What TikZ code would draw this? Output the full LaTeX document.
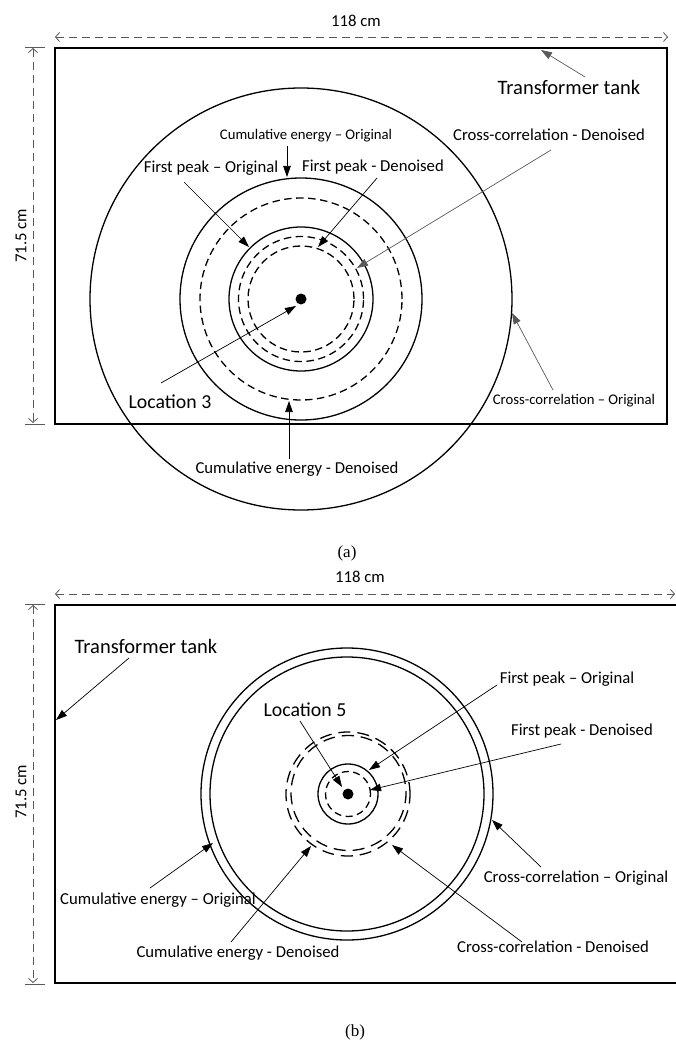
\documentclass[tikz,border=0pt]{standalone}
\usepackage{fontspec}
\setmainfont{Carlito}
\newfontfamily\serifcap{Liberation Serif}
\usetikzlibrary{arrows.meta}
\begin{document}
\begin{tikzpicture}[x=1pt,y=-1pt,
  ring/.style={line width=1.3pt},
  dring/.style={line width=1.3pt, dash pattern=on 7.5pt off 4.5pt},
  lring/.style={line width=1.3pt, dash pattern=on 12pt off 7pt},
  sring/.style={line width=1.3pt, dash pattern=on 7pt off 4.5pt},
  tank/.style={line width=2pt},
  ptr/.style={line width=0.7pt, -{Triangle[length=11pt,width=7.5pt]}},
  gptr/.style={ptr, draw=black!65},
  dimline/.style={black!65, line width=0.8pt, dash pattern=on 8pt off 5pt,
     {Straight Barb[length=4pt,width=9pt]}-{Straight Barb[length=4pt,width=9pt]}},
  tickline/.style={black!65, line width=0.8pt},
  lbl/.style={inner sep=0pt, font=\fontsize{16.7pt}{20pt}\selectfont},
  slbl/.style={inner sep=0pt, font=\fontsize{14.7pt}{18pt}\selectfont},
  blbl/.style={inner sep=0pt, font=\fontsize{20.5pt}{24pt}\selectfont},
  figcap/.style={inner sep=0pt, font=\serifcap\fontsize{17pt}{20pt}\selectfont},
  pdot/.style={circle, fill=black, inner sep=0pt, minimum size=11pt}]
\useasboundingbox (0,0) rectangle (675,1043);

% ================= (a) =================
\coordinate (a-dl) at (55,37);
\coordinate (a-dr) at (668,37);
\draw[dimline] (a-dl) -- (a-dr);
\node[lbl] (a-w) at (356,21) {118 cm};
\coordinate (a-vt) at (33,48);
\coordinate (a-vb) at (33,423);
\draw[dimline] (a-vt) -- (a-vb);
\draw[tickline] (25,47) -- (45,47);
\draw[tickline] (25,424) -- (45,424);
\node[lbl, rotate=90] (a-h) at (21,236) {71.5 cm};
\draw[tank] (55,48) rectangle (667,424);

\coordinate (ca) at (301,299);
\draw[ring] (ca) circle[radius=211pt];
\draw[ring] (ca) circle[radius=121pt];
\draw[dring] (ca) circle[radius=101pt];
\draw[ring] (ca) circle[radius=72pt];
\draw[dring] (ca) circle[radius=62.5pt];
\draw[dring] (ca) circle[radius=53pt];
\node[pdot] (a-dot) at (ca) {};

\node[blbl] (a-tank) at (569,87) {Transformer tank};
\coordinate (a-tank-s) at (585,77);
\coordinate (a-tank-t) at (541,50);
\draw[gptr] (a-tank-s) -- (a-tank-t);

\node[slbl] (a-ceo) at (306,136) {Cumulative energy – Original};
\coordinate (a-ceo-s) at (287,146);
\coordinate (a-ceo-t) at (287,177);
\draw[ptr] (a-ceo-s) -- (a-ceo-t);

\node[lbl] (a-fpo) at (211,168) {First peak – Original};
\coordinate (a-fpo-s) at (184,182);
\coordinate (a-fpo-t) at (249,247);
\draw[ptr] (a-fpo-s) -- (a-fpo-t);

\node[lbl] (a-fpd) at (373,167) {First peak - Denoised};
\coordinate (a-fpd-s) at (377,178);
\coordinate (a-fpd-t) at (318,247);
\draw[ptr] (a-fpd-s) -- (a-fpd-t);

\node[lbl] (a-ccd) at (549,135) {Cross-correlation - Denoised};
\coordinate (a-ccd-s) at (551,150);
\coordinate (a-ccd-t) at (357,268);
\draw[gptr] (a-ccd-s) -- (a-ccd-t);

\node[inner sep=0pt, font=\fontsize{19.8pt}{24pt}\selectfont] (a-loc) at (170,402) {Location 3};
\coordinate (a-loc-s) at (161,383);
\coordinate (a-loc-t) at (296,306);
\draw[ptr] (a-loc-s) -- (a-loc-t);

\node[lbl] (a-ced) at (297,469) {Cumulative energy - Denoised};
\coordinate (a-ced-s) at (289,459);
\coordinate (a-ced-t) at (289,401);
\draw[ptr] (a-ced-s) -- (a-ced-t);

\node[slbl] (a-cco) at (574,401) {Cross-correlation – Original};
\coordinate (a-cco-s) at (553,390);
\coordinate (a-cco-t) at (512,313);
\draw[gptr] (a-cco-s) -- (a-cco-t);

\node[figcap] (a-cap) at (347,553) {(a)};

% ================= (b) =================
\coordinate (b-dl) at (55,594);
\coordinate (b-dr) at (675,594);
\draw[dimline] (b-dl) -- (b-dr);
\node[lbl] (b-w) at (360,577) {118 cm};
\coordinate (b-vt) at (33,605);
\coordinate (b-vb) at (33,983);
\draw[dimline] (b-vt) -- (b-vb);
\draw[tickline] (25,604) -- (45,604);
\draw[tickline] (25,984) -- (45,984);
\node[lbl, rotate=90] (b-h) at (21,792) {71.5 cm};
\draw[tank] (55,605) rectangle (690,983);

\coordinate (cb) at (347,794);
\coordinate (cb2) at (348,794);
\coordinate (cb3) at (348.5,793);
\draw[ring] (cb) circle[radius=146pt];
\draw[ring] (cb) circle[radius=137pt];
\draw[lring] (cb2) circle[radius=62pt];
\draw[lring, dash phase=10pt] (cb3) circle[radius=57.5pt];
\draw[ring] (cb2) circle[radius=30pt];
\draw[sring] (cb2) circle[radius=22.5pt];
\node[pdot] (b-dot) at (cb2) {};

\node[blbl] (b-tank) at (146,646) {Transformer tank};
\coordinate (b-tank-s) at (129,658);
\coordinate (b-tank-t) at (56,720);
\draw[ptr] (b-tank-s) -- (b-tank-t);

\node[inner sep=0pt, font=\fontsize{19.8pt}{24pt}\selectfont] (b-loc) at (305,710) {Location 5};
\coordinate (b-loc-s) at (300,721);
\coordinate (b-loc-t) at (342,787);
\draw[ptr] (b-loc-s) -- (b-loc-t);

\node[lbl] (b-fpo) at (567,679) {First peak – Original};
\coordinate (b-fpo-s) at (497,685);
\coordinate (b-fpo-t) at (369,770);
\draw[ptr] (b-fpo-s) -- (b-fpo-t);

\node[lbl] (b-fpd) at (582,731) {First peak - Denoised};
\coordinate (b-fpd-s) at (561,744);
\coordinate (b-fpd-t) at (370,790);
\draw[ptr] (b-fpd-s) -- (b-fpd-t);

\node[lbl] (b-ceo) at (158,900) {Cumulative energy – Original};
\coordinate (b-ceo-s) at (150,888);
\coordinate (b-ceo-t) at (213,843);
\draw[ptr] (b-ceo-s) -- (b-ceo-t);

\node[lbl] (b-ced) at (238,953) {Cumulative energy - Denoised};
\coordinate (b-ced-s) at (231,942);
\coordinate (b-ced-t) at (311,846);
\draw[ptr] (b-ced-s) -- (b-ced-t);

\node[lbl] (b-cco) at (576,878) {Cross-correlation – Original};
\coordinate (b-cco-s) at (541,867);
\coordinate (b-cco-t) at (492,820);
\draw[ptr] (b-cco-s) -- (b-cco-t);

\node[lbl] (b-ccd) at (553,947) {Cross-correlation - Denoised};
\coordinate (b-ccd-s) at (522,942);
\coordinate (b-ccd-t) at (392,845);
\draw[ptr] (b-ccd-s) -- (b-ccd-t);

\node[figcap] (b-cap) at (355,1032) {(b)};
\end{tikzpicture}
\end{document}
